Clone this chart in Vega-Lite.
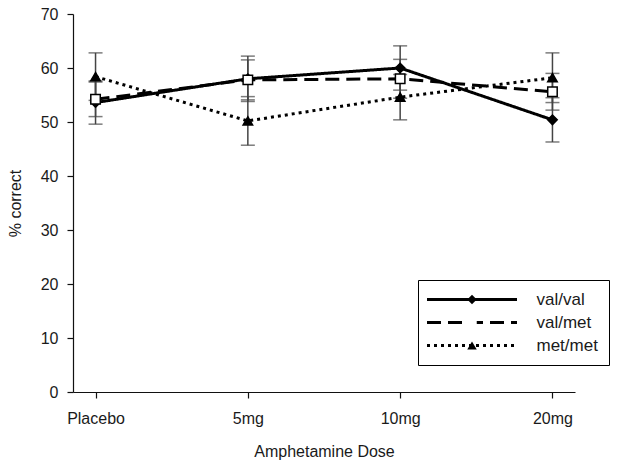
{
  "$schema": "https://vega.github.io/schema/vega-lite/v6.json",
  "width": 502,
  "height": 378,
  "autosize": {"type": "none"},
  "padding": {"left": 73, "top": 14, "right": 49, "bottom": 76},
  "config": {
    "view": {"stroke": null},
    "font": "Liberation Sans",
    "axis": {
      "grid": false,
      "labelFontSize": 16,
      "titleFontSize": 16,
      "titleFontWeight": "normal",
      "labelColor": "#1a1a1a",
      "titleColor": "#1a1a1a",
      "domainColor": "#111",
      "tickColor": "#111",
      "domainWidth": 1.2,
      "tickWidth": 1.2,
      "tickSize": 6
    }
  },
  "data": {
    "values": [
      {"dose": "Placebo", "group": "val/val", "mean": 53.6, "err": 4.0},
      {"dose": "Placebo", "group": "val/met", "mean": 54.2, "err": 3.2},
      {"dose": "Placebo", "group": "met/met", "mean": 58.4, "err": 4.4},
      {"dose": "5mg", "group": "val/val", "mean": 58.0, "err": 4.2},
      {"dose": "5mg", "group": "val/met", "mean": 57.8, "err": 3.7},
      {"dose": "5mg", "group": "met/met", "mean": 50.2, "err": 4.5},
      {"dose": "10mg", "group": "val/val", "mean": 60.0, "err": 4.1},
      {"dose": "10mg", "group": "val/met", "mean": 58.0, "err": 3.6},
      {"dose": "10mg", "group": "met/met", "mean": 54.6, "err": 4.2},
      {"dose": "20mg", "group": "val/val", "mean": 50.4, "err": 4.1},
      {"dose": "20mg", "group": "val/met", "mean": 55.6, "err": 3.4},
      {"dose": "20mg", "group": "met/met", "mean": 58.2, "err": 4.6}
    ]
  },
  "encoding": {
    "x": {
      "field": "dose",
      "type": "nominal",
      "scale": {"type": "point", "domain": ["Placebo", "5mg", "10mg", "20mg"], "padding": 0.148},
      "axis": {"title": "Amphetamine Dose", "labelAngle": 0, "labelPadding": 12, "titlePadding": 17}
    }
  },
  "layer": [
    {
      "mark": {"type": "errorbar", "color": "#444", "thickness": 1.5, "ticks": {"size": 14, "color": "#444", "thickness": 1.5}},
      "encoding": {
        "y": {
          "field": "mean",
          "type": "quantitative",
          "scale": {"domain": [0, 70]},
          "axis": {"title": "% correct", "values": [0, 10, 20, 30, 40, 50, 60, 70], "labelPadding": 9, "titlePadding": 17}
        },
        "yError": {"field": "err"},
        "detail": {"field": "group", "type": "nominal"}
      }
    },
    {
      "mark": {"type": "line", "color": "black", "strokeWidth": 3},
      "encoding": {
        "y": {"field": "mean", "type": "quantitative"},
        "strokeDash": {
          "field": "group",
          "type": "nominal",
          "sort": "descending",
          "scale": {"range": [[1, 0], [14, 7], [3, 4]]},
          "legend": {
            "orient": "none",
            "legendX": 345,
            "legendY": 266,
            "title": null,
            "padding": 11,
            "strokeColor": "black",
            "fillColor": "white",
            "symbolType": "M-10,0H10",
            "symbolSize": 81,
            "symbolStrokeColor": "black",
            "symbolStrokeWidth": 3,
            "symbolOffset": 34.5,
            "labelOffset": 56,
            "labelFontSize": 17,
            "labelColor": "#1a1a1a",
            "rowPadding": 5,
            "zindex": 1
          }
        }
      }
    },
    {
      "mark": {"type": "point", "stroke": "black", "strokeWidth": 1.5, "opacity": 1, "size": 90},
      "encoding": {
        "y": {"field": "mean", "type": "quantitative"},
        "shape": {
          "field": "group",
          "type": "nominal",
          "scale": {"domain": ["val/val", "val/met", "met/met"], "range": ["diamond", "square", "triangle-up"]},
          "legend": {
            "orient": "none",
            "legendX": 345,
            "legendY": 266,
            "title": null,
            "padding": 11,
            "symbolSize": 90,
            "symbolStrokeColor": "black",
            "symbolStrokeWidth": 1.5,
            "symbolOffset": 34.5,
            "labelOffset": 56,
            "labelFontSize": 17,
            "labelOpacity": 0,
            "rowPadding": 5,
            "zindex": 2
          }
        },
        "fill": {
          "field": "group",
          "type": "nominal",
          "scale": {"domain": ["val/val", "val/met", "met/met"], "range": ["black", "white", "black"]},
          "legend": {
            "orient": "none",
            "legendX": 345,
            "legendY": 266,
            "title": null,
            "padding": 11,
            "symbolSize": 90,
            "symbolStrokeColor": "black",
            "symbolStrokeWidth": 1.5,
            "symbolOffset": 34.5,
            "labelOffset": 56,
            "labelFontSize": 17,
            "labelOpacity": 0,
            "rowPadding": 5,
            "zindex": 2
          }
        }
      }
    }
  ]
}
